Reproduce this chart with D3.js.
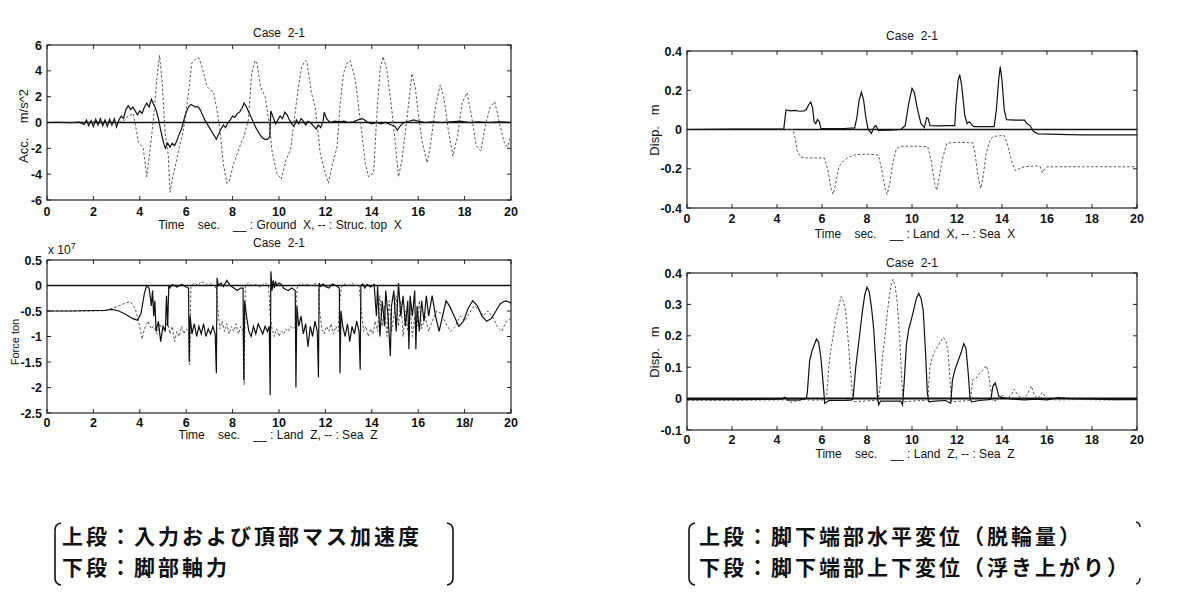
<!DOCTYPE html>
<html><head><meta charset="utf-8">
<script src="https://cdn.jsdelivr.net/npm/d3@7"></script>
<style>
body{margin:0;background:#fff;}
svg text{font-family:"Liberation Sans",Arial,sans-serif;fill:#111;}
.cj{font-family:"Noto Sans CJK JP",sans-serif;}
</style></head><body>
<svg id="c" width="1200" height="611"></svg>
<script>
// ---- tick labels ----
const xTicks = [0,2,4,6,8,10,12,14,16,18,20];
const xTickLabelsForce = ["0","2","4","6","8","10","12","14","16","18/","20"];
const accTicks = [6,4,2,0,-2,-4,-6];
const forceTicks = [0.5,0,-0.5,-1,-1.5,-2,-2.5];
const dispXTicks = [0.4,0.2,0,-0.2,-0.4];
const dispZTicks = [0.4,0.3,0.2,0.1,0,-0.1];

// ---- series: [time s, value] ----
const accGround = [[0,0],[0.5,0.02],[1.0,-0.02],[1.4,0.03],[1.6,-0.15],[1.7,0.2],[1.8,-0.25],[1.9,0.15],[2.0,-0.3],[2.1,0.25],[2.2,-0.2],[2.3,0.3],[2.4,-0.25],[2.5,0.2],[2.6,-0.3],[2.7,0.25],[2.8,-0.2],[2.9,0.3],[3.0,-0.35],[3.1,0.2],[3.2,0.5],[3.3,0.3],[3.4,1.0],[3.5,1.3],[3.6,1.0],[3.7,1.2],[3.8,0.9],[3.9,0.6],[4.0,0.9],[4.1,0.7],[4.2,1.2],[4.3,1.5],[4.4,1.2],[4.5,1.8],[4.6,1.4],[4.7,1.0],[4.8,0.3],[4.9,-0.6],[5.0,-1.4],[5.1,-2.0],[5.2,-1.6],[5.3,-1.9],[5.4,-1.6],[5.5,-1.8],[5.6,-1.4],[5.7,-0.9],[5.8,-0.5],[5.9,0.2],[6.0,0.8],[6.1,1.2],[6.2,1.4],[6.3,1.3],[6.4,1.2],[6.5,1.25],[6.6,1.0],[6.7,0.6],[6.8,0.2],[6.9,-0.1],[7.0,-0.4],[7.1,-0.7],[7.2,-1.0],[7.3,-1.3],[7.4,-0.9],[7.5,-0.5],[7.6,-0.2],[7.7,-0.4],[7.8,0.0],[7.9,0.2],[8.0,0.5],[8.1,0.4],[8.2,0.7],[8.3,0.8],[8.4,1.1],[8.5,1.5],[8.6,1.2],[8.7,0.8],[8.8,0.4],[8.9,0.0],[9.0,-0.4],[9.1,-0.7],[9.2,-1.0],[9.3,-1.2],[9.4,-1.3],[9.5,-1.3],[9.6,-1.1],[9.65,0.9],[9.75,0.4],[9.85,-0.1],[9.95,0.2],[10.05,0.5],[10.15,0.3],[10.25,0.8],[10.35,0.6],[10.45,0.2],[10.55,-0.1],[10.65,-0.3],[10.75,0.2],[10.85,-0.1],[10.95,0.3],[11.05,0.1],[11.15,-0.2],[11.25,0.1],[11.35,0.0],[11.5,-0.3],[11.6,-0.5],[11.7,-0.2],[11.8,-0.4],[11.9,0.1],[11.95,0.8],[12.05,0.3],[12.2,0.0],[12.4,0.1],[12.6,0.05],[12.8,0.1],[13.0,0.0],[13.2,0.05],[13.4,0.2],[13.6,0.3],[13.8,0.05],[14.0,-0.1],[14.2,0.0],[14.4,-0.1],[14.6,0.0],[14.8,-0.15],[15.0,-0.3],[15.1,-0.6],[15.25,-0.2],[15.4,0.0],[15.6,0.1],[15.8,0.2],[16.0,0.1],[16.3,0.0],[16.6,0.05],[17.0,0.0],[17.4,0.05],[17.8,0.1],[18.2,0.0],[18.6,0.05],[19.0,0.0],[19.5,0.05],[20,0.0]];
const accTop = [[0,0],[1,0],[2,0.02],[3,0],[3.3,0.1],[3.5,0.5],[3.72,0.7],[3.94,-1.5],[4.15,-2.0],[4.3,-4.2],[4.45,-2.0],[4.6,0.5],[4.73,3.3],[4.85,5.2],[4.97,3.0],[5.09,-0.8],[5.23,-2.6],[5.3,-5.4],[5.45,-4.0],[5.59,-2.9],[5.75,-1.5],[5.88,-0.6],[6.1,2.3],[6.24,4.6],[6.4,4.9],[6.55,5.0],[6.7,4.2],[6.89,2.8],[7.05,2.5],[7.17,2.4],[7.3,1.2],[7.46,-0.6],[7.6,-3.2],[7.75,-4.7],[7.85,-4.6],[8.04,-3.2],[8.3,-1.9],[8.5,-1.0],[8.68,0.2],[8.82,3.8],[8.97,4.8],[9.05,4.6],[9.2,2.8],[9.4,2.0],[9.6,-0.3],[9.69,-2.1],[9.9,-3.9],[10.1,-4.4],[10.3,-2.9],[10.5,-2.1],[10.6,-0.6],[10.84,2.8],[10.98,4.3],[11.13,4.8],[11.2,4.7],[11.4,2.3],[11.56,1.2],[11.78,-2.4],[11.99,-3.9],[12.13,-4.7],[12.28,-3.4],[12.5,-1.9],[12.64,1.5],[12.78,3.8],[12.93,4.6],[13.07,4.8],[13.29,3.3],[13.43,1.2],[13.57,-0.8],[13.72,-3.2],[13.86,-4.2],[14.08,-3.9],[14.22,0.7],[14.36,4.1],[14.48,5.1],[14.65,4.1],[14.86,1.0],[15.0,-1.4],[15.15,-4.2],[15.3,-2.9],[15.51,0.2],[15.73,3.8],[15.87,2.8],[16.0,0.7],[16.16,-1.4],[16.38,-3.1],[16.52,-1.9],[16.74,1.2],[16.95,2.9],[17.1,2.0],[17.3,-0.6],[17.5,-2.6],[17.7,-1.0],[17.89,1.5],[18.1,2.3],[18.3,0.5],[18.5,-1.8],[18.7,-2.2],[18.9,-0.2],[19.1,1.2],[19.3,1.6],[19.5,0.0],[19.7,-1.5],[19.85,-1.9],[20,-1.0]];
const forceLand = [[0,-0.5],[1,-0.5],[2,-0.49],[2.5,-0.49],[2.8,-0.47],[3.1,-0.5],[3.4,-0.57],[3.7,-0.65],[3.9,-0.68],[4.05,-0.55],[4.2,-0.15],[4.3,0.0],[4.4,-0.05],[4.5,-0.4],[4.55,-0.1],[4.6,-0.6],[4.65,-0.3],[4.7,-0.9],[4.8,-0.7],[4.9,-1.1],[5.0,-0.8],[5.1,-0.9],[5.15,-0.2],[5.2,-0.8],[5.25,0.0],[5.3,-0.05],[5.4,0.02],[5.6,-0.03],[5.8,0.02],[6.0,-0.03],[6.1,-0.05],[6.13,-1.5],[6.17,-0.6],[6.25,-0.95],[6.35,-0.75],[6.45,-1.0],[6.55,-0.8],[6.65,-0.95],[6.75,-0.75],[6.85,-1.0],[6.95,-0.85],[7.05,-0.95],[7.15,-0.8],[7.25,-0.95],[7.3,-1.72],[7.33,0.15],[7.38,0.0],[7.5,0.05],[7.6,-0.02],[7.75,0.1],[7.9,0.0],[8.05,-0.05],[8.2,-0.1],[8.35,-0.05],[8.45,-0.05],[8.48,-1.85],[8.52,-0.3],[8.6,-0.6],[8.7,-0.9],[8.8,-1.0],[8.9,-0.8],[9.0,-0.95],[9.1,-0.75],[9.2,-0.85],[9.3,-0.95],[9.4,-0.8],[9.5,-0.9],[9.58,-0.8],[9.62,-2.15],[9.65,0.28],[9.7,-0.1],[9.75,0.1],[9.8,-0.05],[9.85,0.08],[9.9,0.0],[10.0,0.05],[10.1,0.02],[10.2,-0.05],[10.3,-0.08],[10.4,-0.1],[10.55,-0.05],[10.7,-0.1],[10.73,-2.0],[10.77,-0.4],[10.85,-0.8],[10.95,-0.6],[11.05,-0.95],[11.15,-0.75],[11.25,-1.2],[11.35,-0.8],[11.45,-1.0],[11.55,-0.7],[11.65,-0.9],[11.7,-1.8],[11.73,0.05],[11.8,-0.02],[11.9,0.03],[12.0,-0.02],[12.15,-0.05],[12.3,0.03],[12.45,0.0],[12.6,-0.05],[12.63,-1.72],[12.67,-0.5],[12.75,-0.8],[12.85,-1.0],[12.95,-0.75],[13.05,-1.1],[13.15,-0.8],[13.25,-0.95],[13.35,-0.7],[13.45,-0.9],[13.5,-1.65],[13.53,0.0],[13.6,0.03],[13.7,-0.05],[13.8,0.02],[13.95,-0.03],[14.1,0.02],[14.2,-0.6],[14.25,0.0],[14.35,-1.0],[14.45,-0.3],[14.55,-0.8],[14.6,-0.1],[14.7,-0.6],[14.8,-1.38],[14.85,-0.4],[14.95,-0.1],[15.05,-0.9],[15.15,0.05],[15.25,-0.6],[15.35,-0.2],[15.45,-0.8],[15.55,-0.3],[15.6,-1.25],[15.65,-0.2],[15.75,-0.6],[15.85,-0.1],[15.9,-1.25],[15.95,-0.4],[16.05,-0.9],[16.15,-0.3],[16.25,-0.7],[16.35,-0.2],[16.45,-0.6],[16.6,-0.2],[16.75,-0.6],[16.9,-0.9],[17.05,-0.6],[17.2,-0.3],[17.35,-0.4],[17.55,-0.6],[17.75,-0.8],[17.95,-0.7],[18.15,-0.45],[18.35,-0.3],[18.55,-0.4],[18.75,-0.6],[18.95,-0.7],[19.15,-0.65],[19.35,-0.5],[19.55,-0.35],[19.75,-0.3],[19.9,-0.32],[20,-0.35]];
const forceSea = [[0,-0.5],[1,-0.5],[2,-0.5],[2.5,-0.49],[2.8,-0.45],[3.1,-0.4],[3.4,-0.34],[3.6,-0.32],[3.8,-0.45],[4.0,-0.8],[4.1,-1.05],[4.2,-0.85],[4.35,-0.7],[4.5,-0.85],[4.6,-0.8],[4.75,-0.95],[4.85,-0.75],[5.0,-0.9],[5.1,-0.8],[5.2,-0.7],[5.3,-0.95],[5.4,-0.8],[5.5,-1.1],[5.6,-0.9],[5.7,-1.0],[5.8,-0.8],[5.9,-0.95],[6.0,-0.85],[6.1,-0.9],[6.15,-1.55],[6.2,0.0],[6.35,0.05],[6.5,0.0],[6.65,0.08],[6.8,0.05],[6.95,0.0],[7.1,0.05],[7.25,-0.05],[7.3,0.0],[7.35,-0.4],[7.45,-0.85],[7.55,-0.7],[7.65,-0.9],[7.75,-0.75],[7.85,-0.95],[7.95,-0.8],[8.05,-0.9],[8.15,-0.75],[8.25,-0.95],[8.35,-0.8],[8.45,-0.9],[8.5,-1.95],[8.55,0.0],[8.7,0.05],[8.85,0.0],[9.0,0.02],[9.2,-0.03],[9.4,0.05],[9.55,0.0],[9.62,-0.6],[9.7,-0.85],[9.8,-1.0],[9.9,-0.85],[10.0,-1.0],[10.1,-0.9],[10.2,-0.95],[10.3,-0.85],[10.4,-0.9],[10.5,-0.8],[10.6,-0.85],[10.7,-0.8],[10.75,-0.2],[10.8,0.0],[10.95,0.05],[11.1,0.0],[11.25,0.03],[11.4,0.0],[11.55,0.04],[11.7,0.0],[11.75,-0.5],[11.85,-0.85],[11.95,-0.95],[12.05,-0.8],[12.15,-0.9],[12.25,-0.75],[12.35,-0.95],[12.45,-0.8],[12.55,-0.9],[12.62,-0.3],[12.7,0.0],[12.85,0.03],[13.0,0.0],[13.15,0.05],[13.3,0.0],[13.45,0.02],[13.55,-0.5],[13.65,-0.9],[13.75,-0.8],[13.85,-1.0],[13.95,-0.85],[14.05,-0.95],[14.15,-0.7],[14.25,-0.9],[14.35,-0.2],[14.45,-0.8],[14.55,-0.4],[14.65,-1.0],[14.75,-0.3],[14.85,-0.9],[14.95,-0.6],[15.05,-0.2],[15.15,-0.8],[15.25,-0.3],[15.35,-1.0],[15.45,-0.5],[15.55,-0.9],[15.65,-0.4],[15.75,-1.0],[15.85,-0.6],[15.95,-0.8],[16.05,-0.3],[16.15,-0.85],[16.3,-0.6],[16.45,-0.9],[16.6,-0.7],[16.8,-0.5],[17.0,-0.55],[17.2,-0.75],[17.4,-0.9],[17.6,-0.8],[17.8,-0.6],[18.0,-0.7],[18.2,-0.55],[18.4,-0.4],[18.6,-0.45],[18.8,-0.6],[19.0,-0.5],[19.2,-0.6],[19.4,-0.8],[19.6,-0.9],[19.8,-0.7],[20,-0.65]];
const dispXLand = [[0,0],[2,0.002],[4.3,0.002],[4.35,0.05],[4.4,0.1],[4.6,0.095],[4.8,0.097],[5.0,0.093],[5.2,0.095],[5.3,0.1],[5.4,0.125],[5.5,0.14],[5.58,0.11],[5.65,0.04],[5.72,0.03],[5.8,0.05],[5.88,0.04],[5.95,0.005],[6.5,0.004],[7.0,0.005],[7.45,0.008],[7.55,0.06],[7.65,0.15],[7.75,0.19],[7.85,0.15],[7.95,0.06],[8.05,0.0],[8.2,-0.02],[8.3,0.01],[8.4,0.02],[8.5,-0.005],[9.0,-0.003],[9.5,0.0],[9.7,0.02],[9.85,0.13],[10.0,0.21],[10.1,0.19],[10.25,0.1],[10.4,0.03],[10.55,0.01],[10.65,0.06],[10.72,0.055],[10.8,0.02],[11.2,0.018],[11.6,0.02],[11.9,0.02],[11.95,0.12],[12.05,0.25],[12.12,0.28],[12.2,0.23],[12.35,0.07],[12.45,0.03],[12.55,0.04],[12.65,0.025],[12.75,0.015],[13.2,0.015],[13.65,0.015],[13.75,0.1],[13.85,0.25],[13.92,0.32],[14.0,0.25],[14.1,0.1],[14.2,0.05],[14.6,0.048],[15.0,0.048],[15.1,0.03],[15.25,0.02],[15.4,-0.01],[15.6,-0.022],[16.5,-0.025],[17.5,-0.027],[18.5,-0.027],[20,-0.027]];
const dispXSea = [[0,0],[2,0],[4.7,0.0],[4.8,-0.04],[4.9,-0.11],[5.05,-0.14],[5.3,-0.145],[5.7,-0.145],[6.1,-0.145],[6.25,-0.2],[6.4,-0.3],[6.5,-0.33],[6.6,-0.28],[6.75,-0.19],[6.95,-0.16],[7.2,-0.14],[7.5,-0.128],[8.0,-0.125],[8.5,-0.13],[8.65,-0.2],[8.8,-0.3],[8.9,-0.33],[9.0,-0.28],[9.15,-0.17],[9.3,-0.1],[9.5,-0.085],[10.0,-0.085],[10.7,-0.087],[10.85,-0.16],[11.0,-0.27],[11.1,-0.31],[11.2,-0.25],[11.35,-0.15],[11.55,-0.07],[12.0,-0.065],[12.7,-0.068],[12.8,-0.12],[12.95,-0.25],[13.05,-0.3],[13.15,-0.25],[13.3,-0.12],[13.45,-0.06],[13.6,-0.035],[14.1,-0.03],[14.25,-0.08],[14.45,-0.17],[14.6,-0.21],[14.75,-0.2],[15.0,-0.19],[15.5,-0.185],[15.7,-0.19],[15.8,-0.22],[15.9,-0.2],[16.0,-0.19],[17.0,-0.19],[18.0,-0.19],[19.0,-0.19],[20,-0.19]];
const dispZLand = [[0,-0.003],[2,-0.003],[4.2,-0.002],[4.35,0.004],[4.5,-0.005],[5.0,-0.004],[5.3,0.0],[5.35,0.02],[5.45,0.12],[5.55,0.15],[5.65,0.17],[5.75,0.19],[5.85,0.18],[5.95,0.13],[6.05,0.05],[6.12,-0.015],[6.3,-0.006],[7.0,-0.006],[7.3,-0.005],[7.38,0.0],[7.5,0.1],[7.6,0.16],[7.7,0.22],[7.8,0.28],[7.9,0.33],[8.0,0.355],[8.1,0.34],[8.2,0.29],[8.3,0.22],[8.4,0.1],[8.47,0.0],[8.52,-0.02],[8.6,-0.008],[9.0,-0.008],[9.5,-0.008],[9.58,-0.02],[9.65,0.05],[9.75,0.17],[9.85,0.22],[10.0,0.26],[10.1,0.29],[10.2,0.32],[10.3,0.335],[10.4,0.32],[10.5,0.28],[10.6,0.15],[10.68,0.02],[10.75,-0.01],[11.0,-0.008],[11.5,-0.006],[11.72,-0.015],[11.8,0.06],[11.9,0.09],[12.0,0.11],[12.1,0.13],[12.2,0.15],[12.3,0.175],[12.4,0.16],[12.5,0.08],[12.58,0.0],[12.65,-0.01],[13.0,-0.006],[13.5,-0.003],[13.6,0.04],[13.7,0.05],[13.78,0.03],[13.85,0.008],[14.0,0.003],[14.5,-0.002],[15.0,-0.004],[15.5,-0.002],[16.0,-0.004],[16.5,0.003],[17.0,0.0],[18.0,-0.002],[19.0,-0.003],[20,-0.003]];
const dispZSea = [[0,-0.005],[2,-0.005],[4.4,-0.004],[4.6,-0.012],[4.8,-0.008],[5.2,-0.003],[5.6,-0.005],[6.1,-0.004],[6.2,0.0],[6.3,0.1],[6.4,0.16],[6.5,0.2],[6.6,0.25],[6.7,0.28],[6.85,0.325],[6.95,0.31],[7.05,0.28],[7.15,0.2],[7.25,0.1],[7.35,0.02],[7.4,-0.01],[7.8,-0.008],[8.2,-0.006],[8.5,-0.005],[8.6,0.05],[8.7,0.14],[8.8,0.2],[8.9,0.27],[9.0,0.33],[9.1,0.37],[9.15,0.38],[9.25,0.36],[9.35,0.3],[9.45,0.2],[9.55,0.05],[9.62,-0.01],[10.0,-0.008],[10.7,-0.005],[10.8,0.1],[10.9,0.13],[11.0,0.15],[11.1,0.16],[11.25,0.18],[11.4,0.195],[11.5,0.185],[11.6,0.15],[11.7,0.05],[11.77,-0.01],[12.2,-0.008],[12.6,-0.005],[12.7,0.06],[12.85,0.065],[13.0,0.08],[13.15,0.09],[13.3,0.105],[13.4,0.08],[13.5,0.03],[13.58,-0.008],[13.8,-0.005],[14.0,0.01],[14.2,0.0],[14.4,0.01],[14.55,0.03],[14.7,0.01],[14.9,0.0],[15.1,0.01],[15.3,0.04],[15.45,0.01],[15.6,0.0],[15.8,0.02],[16.0,-0.003],[16.5,-0.004],[17.5,-0.003],[18.5,-0.004],[20,-0.003]];

const captionLeft = ["上段：入力および頂部マス加速度","下段：脚部軸力"];
const captionRight = ["上段：脚下端部水平変位（脱輪量）","下段：脚下端部上下変位（浮き上がり）"];

const svg = d3.select("#c");

function panel(o){
  const g = svg.append("g");
  const x = d3.scaleLinear().domain([0,20]).range([o.x0,o.x1]);
  const y = d3.scaleLinear().domain(o.ydom).range([o.y1,o.y0]);
  const line = d3.line().x(d=>x(d[0])).y(d=>y(d[1]));
  g.append("rect").attr("x",o.x0).attr("y",o.y0).attr("width",o.x1-o.x0).attr("height",o.y1-o.y0)
    .attr("fill","none").attr("stroke","#222").attr("stroke-width",1.2);
  const tl=4;
  xTicks.forEach(t=>{
    g.append("line").attr("x1",x(t)).attr("x2",x(t)).attr("y1",o.y1).attr("y2",o.y1-tl).attr("stroke","#222");
    g.append("line").attr("x1",x(t)).attr("x2",x(t)).attr("y1",o.y0).attr("y2",o.y0+tl).attr("stroke","#222");
  });
  o.yticks.forEach(t=>{
    g.append("line").attr("x1",o.x0).attr("x2",o.x0+tl).attr("y1",y(t)).attr("y2",y(t)).attr("stroke","#222");
    g.append("line").attr("x1",o.x1).attr("x2",o.x1-tl).attr("y1",y(t)).attr("y2",y(t)).attr("stroke","#222");
  });
  const xl = o.xlabels || xTicks.map(String);
  xTicks.forEach((t,i)=>{
    g.append("text").attr("x",x(t)).attr("y",o.y1+o.xtb).attr("text-anchor","middle")
      .attr("font-size",12.5).attr("font-weight","bold").text(xl[i]);
  });
  o.yticks.forEach(t=>{
    g.append("text").attr("x",o.x0-5).attr("y",y(t)+4.5).attr("text-anchor","end")
      .attr("font-size",12.5).attr("font-weight","bold").text(String(t));
  });
  g.append("line").attr("x1",o.x0).attr("x2",o.x1).attr("y1",y(0)).attr("y2",y(0))
    .attr("stroke","#111").attr("stroke-width",o.zw||1.3);
  g.append("path").datum(o.dashed).attr("d",line).attr("fill","none")
    .attr("stroke","#555").attr("stroke-width",1).attr("stroke-dasharray","2.5,2");
  g.append("path").datum(o.solid).attr("d",line).attr("fill","none")
    .attr("stroke","#111").attr("stroke-width",1.2);
  g.append("text").attr("x",(o.x0+o.x1)/2).attr("y",o.titleY).attr("text-anchor","middle")
    .attr("font-size",12).style("white-space","pre").text("Case  2-1");
  g.append("text").attr("x",o.xlx).attr("y",o.y1+o.xlb).attr("text-anchor","middle")
    .attr("font-size",12).style("white-space","pre").text(o.xlabel);
  g.append("text").attr("transform",`translate(${o.ylx},${o.yly}) rotate(-90)`).attr("text-anchor","middle")
    .attr("font-size",o.ylfs||13).style("white-space","pre").text(o.ylabel);
  return {g,x,y};
}

panel({x0:47,x1:511,y0:45,y1:200,ydom:[-6,6],yticks:accTicks,solid:accGround,dashed:accTop,
  titleY:37,xtb:16,xlb:29,xlx:280,xlabel:"Time    sec.    __ : Ground  X, -- : Struc. top  X",
  ylx:28,yly:126,ylabel:"Acc.    m/s^2"});
const p2 = panel({x0:47,x1:511,y0:260,y1:413,ydom:[-2.5,0.5],yticks:forceTicks,solid:forceLand,dashed:forceSea,
  xlabels:xTickLabelsForce,titleY:247,xtb:14,xlb:26,xlx:278,xlabel:"Time    sec.    __ : Land  Z, -- : Sea  Z",
  ylx:19,yly:342,ylabel:"Force ton",ylfs:11});
p2.g.append("text").attr("x",48).attr("y",254).attr("font-size",12).text("x 10")
  .append("tspan").attr("dy",-5).attr("font-size",9).text("7");
panel({x0:687,x1:1137,y0:51,y1:208,ydom:[-0.4,0.4],yticks:dispXTicks,solid:dispXLand,dashed:dispXSea,
  titleY:40,xtb:15,xlb:30,xlx:915,xlabel:"Time    sec.    __ : Land  X, -- : Sea  X",
  ylx:659,yly:130,ylabel:"Disp.   m"});
panel({x0:687,x1:1137,y0:273,y1:430,ydom:[-0.1,0.4],yticks:dispZTicks,solid:dispZLand,dashed:dispZSea,
  titleY:267,xtb:14,xlb:28,xlx:915,xlabel:"Time    sec.    __ : Land  Z, -- : Sea  Z",
  ylx:659,yly:352,ylabel:"Disp.   m",zw:2});

function caption(lines,x,bx0,bx1,full){
  const g = svg.append("g");
  lines.forEach((s,i)=>{
    g.append("text").attr("class","cj").attr("x",x).attr("y",544+i*30.5)
      .attr("font-size",21).attr("font-weight",700).attr("letter-spacing",3).text(s);
  });
  const b = "#111";
  g.append("path").attr("d",`M${bx0+6},523 Q${bx0},524 ${bx0},530 L${bx0},578 Q${bx0},584 ${bx0+6},585`)
    .attr("fill","none").attr("stroke",b).attr("stroke-width",1.6);
  if(full){
    g.append("path").attr("d",`M${bx1-6},523 Q${bx1},524 ${bx1},530 L${bx1},578 Q${bx1},584 ${bx1-6},585`)
      .attr("fill","none").attr("stroke",b).attr("stroke-width",1.6);
  } else {
    g.append("path").attr("d",`M${bx1-4},522 Q${bx1},523 ${bx1},527`).attr("fill","none").attr("stroke",b).attr("stroke-width",1.4);
    g.append("path").attr("d",`M${bx1},578 Q${bx1},583 ${bx1-4},584`).attr("fill","none").attr("stroke",b).attr("stroke-width",1.4);
  }
}
caption(captionLeft,62,55,453,true);
caption(captionRight,699,689,1140,false);
</script></body></html>
